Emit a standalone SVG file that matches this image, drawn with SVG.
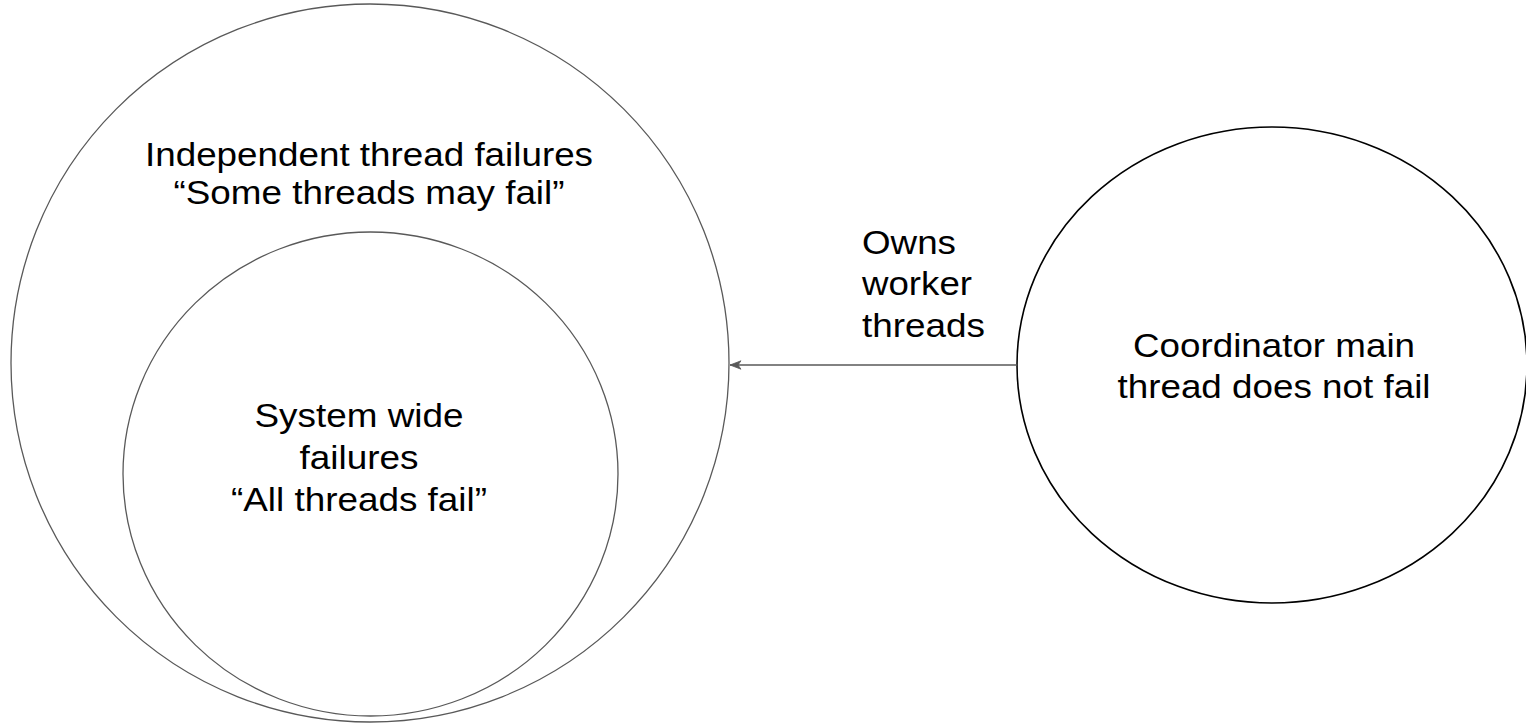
<svg xmlns="http://www.w3.org/2000/svg" width="1526" height="725" viewBox="0 0 1526 725">
<defs>
<style>
.lbl{font-family:"Liberation Sans",Arial,sans-serif;font-size:34px;fill:#000;}
.c{text-anchor:middle;}
.gray{fill:#fff;stroke:#595959;stroke-width:1.3;}
.blk{fill:#fff;stroke:#000;stroke-width:1.6;}
.edge{stroke:#595959;stroke-width:1.3;fill:none;}
</style>
<marker id="arr" markerWidth="14" markerHeight="10" refX="12" refY="5" orient="auto" markerUnits="userSpaceOnUse">
<path d="M12,5 L1,0.8 L4,5 L1,9.2 Z" fill="#595959" stroke="#595959" stroke-width="0.8" stroke-linejoin="round"/>
</marker>
</defs>
<rect width="1526" height="725" fill="#fff"/>
<g id="outer">
<circle class="gray" cx="370" cy="363" r="359"/>
<text class="lbl c" x="369" y="166" textLength="448" lengthAdjust="spacingAndGlyphs">Independent thread failures</text>
<text class="lbl c" x="369" y="204" textLength="391" lengthAdjust="spacingAndGlyphs">“Some threads may fail”</text>
</g>
<g id="inner">
<ellipse class="gray" cx="370.5" cy="474" rx="247.5" ry="242"/>
<text class="lbl c" x="359" y="427" textLength="209" lengthAdjust="spacingAndGlyphs">System wide</text>
<text class="lbl c" x="359" y="469" textLength="119" lengthAdjust="spacingAndGlyphs">failures</text>
<text class="lbl c" x="359" y="511" textLength="256" lengthAdjust="spacingAndGlyphs">“All threads fail”</text>
</g>
<g id="coordinator">
<ellipse class="blk" cx="1272" cy="365" rx="255" ry="238"/>
<text class="lbl c" x="1274" y="357" textLength="282" lengthAdjust="spacingAndGlyphs">Coordinator main</text>
<text class="lbl c" x="1274" y="398" textLength="313" lengthAdjust="spacingAndGlyphs">thread does not fail</text>
</g>
<g id="connectors">
<line class="edge" x1="1017" y1="365" x2="730" y2="365" marker-end="url(#arr)"/>
<text class="lbl" x="862" y="254" textLength="94" lengthAdjust="spacingAndGlyphs">Owns</text>
<text class="lbl" x="862" y="295" textLength="110" lengthAdjust="spacingAndGlyphs">worker</text>
<text class="lbl" x="862" y="337" textLength="123" lengthAdjust="spacingAndGlyphs">threads</text>
</g>
</svg>
